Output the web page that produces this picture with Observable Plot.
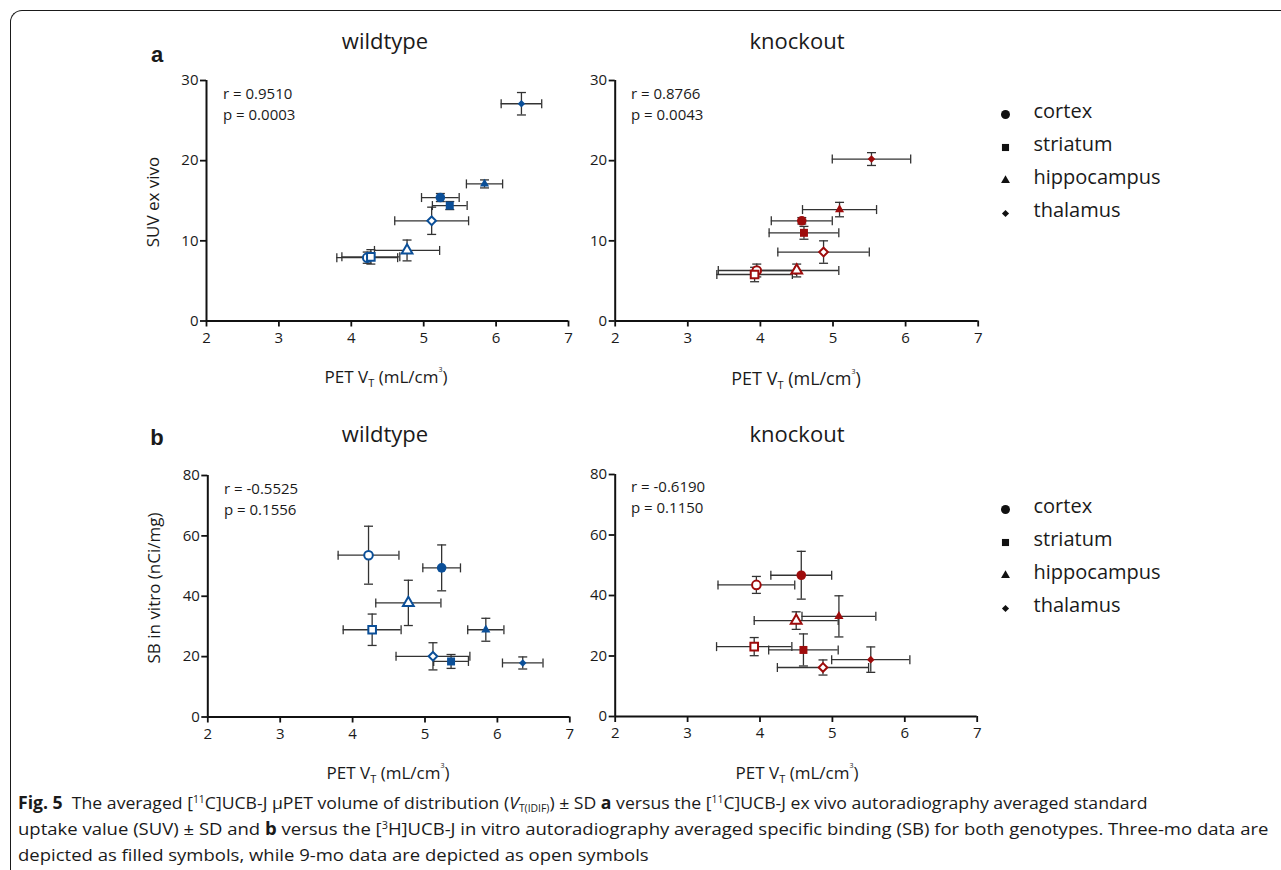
<!DOCTYPE html>
<html><head><meta charset="utf-8">
<script src="https://cdn.jsdelivr.net/npm/d3@7"></script>
<script src="https://cdn.jsdelivr.net/npm/@observablehq/plot@0.6"></script>
<style>
html,body{margin:0;padding:0;background:#fff;overflow:hidden;}
#fig{position:relative;width:1281px;height:870px;overflow:hidden;font-family:"Open Sans",sans-serif;color:#1a1a1a;background:#fff;}
#frame{position:absolute;left:10px;top:10px;width:1320px;height:920px;border-left:1.6px solid #1a1a1a;border-top:1.6px solid #1a1a1a;border-top-left-radius:12px;}
.abs{position:absolute;white-space:nowrap;}
.c{transform:translate(-50%,-50%);}
.title{font-size:22px;}
.letter{font-family:"Liberation Sans",Arial,sans-serif;font-weight:bold;font-size:22px;}
.stat{font-size:15px;line-height:21px;}
.xl{font-size:17px;}
.xl sub{font-size:11px;vertical-align:-4px;line-height:0;}
.xl sup{font-size:7px;vertical-align:11px;line-height:0;}
.yl{font-size:17px;transform:translate(-50%,-50%) rotate(-90deg);}
.panel{position:absolute;}
.panel svg g[aria-label^="x-axis"] line,.panel svg g[aria-label^="x-axis"] path,
.panel svg g[aria-label^="y-axis"] line,.panel svg g[aria-label^="y-axis"] path{stroke-width:1.8;stroke:#111;}
.cap{font-size:17px;transform-origin:0 50%;line-height:20px;}
.cap sup{font-size:10px;vertical-align:6px;line-height:0;}
.cap sub{font-size:10px;vertical-align:-3px;line-height:0;}
</style></head>
<body>
<div id="fig">
  <div id="frame"></div>
  <div class="abs letter c" style="left:157px;top:55px;">a</div>
  <div class="abs letter c" style="left:157px;top:438px;">b</div>
  <div class="abs title c" style="left:385px;top:40px;">wildtype</div>
  <div class="abs title c" style="left:797px;top:40px;">knockout</div>
  <div class="abs title c" style="left:385px;top:433px;">wildtype</div>
  <div class="abs title c" style="left:797px;top:433px;">knockout</div>
  <div class="abs yl" style="left:152px;top:202px;">SUV ex vivo</div>
  <div class="abs yl" style="left:153px;top:588px;">SB in vitro (nCi/mg)</div>
  <div class="abs xl c" style="left:386px;top:376px;">PET V<sub>T</sub> (mL/cm<sup>3</sup>)</div>
  <div class="abs xl c" style="left:796px;top:378px;font-size:18px;">PET V<sub>T</sub> (mL/cm<sup>3</sup>)</div>
  <div class="abs xl c" style="left:388px;top:772px;">PET V<sub>T</sub> (mL/cm<sup>3</sup>)</div>
  <div class="abs xl c" style="left:797px;top:772px;">PET V<sub>T</sub> (mL/cm<sup>3</sup>)</div>
  <div id="pA1" class="panel" style="left:150px;top:60px;"></div>
  <div id="pA2" class="panel" style="left:560px;top:60px;"></div>
  <div id="pB1" class="panel" style="left:150px;top:455px;"></div>
  <div id="pB2" class="panel" style="left:560px;top:455px;"></div>
  <div id="lgA" class="panel" style="left:980px;top:93px;"></div>
  <div id="lgB" class="panel" style="left:980px;top:488px;"></div>
  <div id="st0" class="abs stat" style="left:223px;top:83px;"></div>
  <div id="st1" class="abs stat" style="left:631px;top:83px;"></div>
  <div id="st2" class="abs stat" style="left:224px;top:478px;"></div>
  <div id="st3" class="abs stat" style="left:631px;top:476px;"></div>
  <div id="cap1" class="abs cap" style="left:18px;top:793px;"><b>Fig. 5</b>&nbsp; The averaged [<sup>11</sup>C]UCB-J µPET volume of distribution (<i>V</i><sub>T(IDIF)</sub>) ± SD <b>a</b> versus the [<sup>11</sup>C]UCB-J ex vivo autoradiography averaged standard</div>
  <div id="cap2" class="abs cap" style="left:18px;top:819px;">uptake value (SUV) ± SD and <b>b</b> versus the [<sup>3</sup>H]UCB-J in vitro autoradiography averaged specific binding (SB) for both genotypes. Three-mo data are</div>
  <div id="cap3" class="abs cap" style="left:18px;top:845px;">depicted as filled symbols, while 9-mo data are depicted as open symbols</div>
</div>
<script>
// ---- data ----
const regions = ["cortex", "striatum", "hippocampus", "thalamus"];
const xTicks = [2, 3, 4, 5, 6, 7];
const suvTicks = [0, 10, 20, 30];
const sbTicks = [0, 20, 40, 60, 80];
// PET VT (mL/cm3), mean and SD, order: cortex, striatum, hippocampus, thalamus
const petWT3 = [5.23, 5.36, 5.84, 6.35];
const petWT3sd = [0.26, 0.24, 0.25, 0.28];
const petWT9 = [4.22, 4.27, 4.77, 5.11];
const petWT9sd = [0.42, 0.40, 0.45, 0.51];
const petKO3 = [4.57, 4.60, 5.09, 5.53];
const petKO3sd = [0.42, 0.48, 0.51, 0.54];
const petKO9 = [3.95, 3.92, 4.50, 4.87];
const petKO9sd = [0.53, 0.52, 0.58, 0.63];
// SUV ex vivo
const suvWT3 = [15.4, 14.4, 17.1, 27.1];
const suvWT3sd = [0.5, 0.5, 0.5, 1.4];
const suvWT9 = [7.9, 8.0, 8.8, 12.5];
const suvWT9sd = [0.7, 0.9, 1.3, 1.7];
const suvKO3 = [12.5, 11.0, 13.9, 20.2];
const suvKO3sd = [0.4, 0.8, 0.9, 0.8];
const suvKO9 = [6.3, 5.8, 6.3, 8.6];
const suvKO9sd = [0.8, 0.9, 0.8, 1.4];
// SB in vitro (nCi/mg)
const sbWT3 = [49.4, 18.4, 28.9, 17.9];
const sbWT3sd = [7.6, 2.3, 3.8, 2.0];
const sbWT9 = [53.6, 28.9, 37.8, 20.1];
const sbWT9sd = [9.6, 5.2, 7.5, 4.5];
const sbKO3 = [46.7, 22.0, 33.1, 18.8];
const sbKO3sd = [7.9, 5.3, 6.8, 4.2];
const sbKO9 = [43.5, 23.1, 31.7, 16.2];
const sbKO9sd = [2.8, 3.0, 2.9, 2.5];
// correlation statistics: a-wildtype, a-knockout, b-wildtype, b-knockout
const statR = ["0.9510", "0.8766", "-0.5525", "-0.6190"];
const statP = ["0.0003", "0.0043", "0.1556", "0.1150"];

// ---- styling ----
const BLUE = "#0b4f98", RED = "#9e0c0c", EB = "#333";
const symbolNames = ["circle", "square", "triangle", "diamond2"];
const filledR = [4.8, 4.5, 3.4, 3.4];
const openR = [4.3, 4.3, 4.0, 3.9];
const legendR = [4.5, 4.0, 3.3, 3.2];
const capV = {draw(ctx) { ctx.moveTo(0, -4.5); ctx.lineTo(0, 4.5); }};
const capH = {draw(ctx) { ctx.moveTo(-4.5, 0); ctx.lineTo(4.5, 0); }};

function rows(px, pxsd, py, pysd, age) {
  return regions.map((region, i) => ({region, age, x: px[i], xsd: pxsd[i], y: py[i], ysd: pysd[i]}));
}

function panel(id, data, color, yDomain, yTicks, m) {
  const eb = {stroke: EB, strokeWidth: 1.3};
  const marks = [
    Plot.ruleY(data, {y: "y", x1: d => d.x - d.xsd, x2: d => d.x + d.xsd, ...eb}),
    Plot.ruleX(data, {x: "x", y1: d => d.y - d.ysd, y2: d => d.y + d.ysd, ...eb}),
    Plot.dot(data, {x: d => d.x - d.xsd, y: "y", symbol: capV, fill: "none", ...eb}),
    Plot.dot(data, {x: d => d.x + d.xsd, y: "y", symbol: capV, fill: "none", ...eb}),
    Plot.dot(data, {x: "x", y: d => d.y - d.ysd, symbol: capH, fill: "none", ...eb}),
    Plot.dot(data, {x: "x", y: d => d.y + d.ysd, symbol: capH, fill: "none", ...eb})
  ];
  regions.forEach((r, i) => {
    marks.push(Plot.dot(data.filter(d => d.age === "9-mo" && d.region === r),
      {x: "x", y: "y", symbol: symbolNames[i], r: openR[i], fill: "white", stroke: color, strokeWidth: 2}));
  });
  regions.forEach((r, i) => {
    marks.push(Plot.dot(data.filter(d => d.age === "3-mo" && d.region === r),
      {x: "x", y: "y", symbol: symbolNames[i], r: filledR[i], fill: color, stroke: "none"}));
  });
  marks.push(Plot.ruleY([yDomain[0]], {stroke: "#111", strokeWidth: 2}));
  marks.push(Plot.ruleX([xTicks[0]], {stroke: "#111", strokeWidth: 2}));
  const svg = Plot.plot({
    width: 430, height: 320,
    marginLeft: m[0], marginRight: m[1], marginTop: m[2], marginBottom: m[3],
    x: {domain: [xTicks[0], xTicks[xTicks.length - 1]], ticks: xTicks, tickFormat: d => String(d), tickSize: 6, tickPadding: 5, label: null},
    y: {domain: yDomain, ticks: yTicks, tickFormat: d => String(d), tickSize: 6, tickPadding: 2, label: null},
    style: {fontFamily: "Open Sans", fontSize: "15px", color: "#1a1a1a", background: "none", overflow: "visible"},
    marks
  });
  document.getElementById(id).appendChild(svg);
}

function legend(id) {
  const svg = Plot.plot({
    width: 200, height: 140, margin: 0,
    x: {domain: [0, 1], range: [25, 53], axis: null},
    y: {type: "point", domain: regions, range: [20, 121.5], padding: 0, axis: null},
    style: {fontFamily: "Open Sans", fontSize: "20px", color: "#1a1a1a", background: "none", overflow: "visible"},
    marks: [
      ...regions.map((r, i) => Plot.dot([r], {x: () => 0, y: d => d, symbol: symbolNames[i], r: legendR[i], fill: "#111", stroke: "none"})),
      Plot.text(regions, {x: () => 1, y: d => d, text: d => d, textAnchor: "start", dy: -3, fill: "#1a1a1a"})
    ]
  });
  document.getElementById(id).appendChild(svg);
}

panel("pA1", [...rows(petWT3, petWT3sd, suvWT3, suvWT3sd, "3-mo"), ...rows(petWT9, petWT9sd, suvWT9, suvWT9sd, "9-mo")],
  BLUE, [0, 30], suvTicks, [56, 12, 20, 59.5]);
panel("pA2", [...rows(petKO3, petKO3sd, suvKO3, suvKO3sd, "3-mo"), ...rows(petKO9, petKO9sd, suvKO9, suvKO9sd, "9-mo")],
  RED, [0, 30], suvTicks, [54.7, 12.3, 20, 59.5]);
panel("pB1", [...rows(petWT3, petWT3sd, sbWT3, sbWT3sd, "3-mo"), ...rows(petWT9, petWT9sd, sbWT9, sbWT9sd, "9-mo")],
  BLUE, [0, 80], sbTicks, [57.3, 10.7, 20, 58.5]);
panel("pB2", [...rows(petKO3, petKO3sd, sbKO3, sbKO3sd, "3-mo"), ...rows(petKO9, petKO9sd, sbKO9, sbKO9sd, "9-mo")],
  RED, [0, 80], sbTicks, [54.7, 13.3, 19, 59]);
legend("lgA");
legend("lgB");

statR.forEach((r, i) => {
  document.getElementById("st" + i).innerHTML = "r = " + r + "<br>p = " + statP[i];
});

// fit caption lines to the reference line widths
function fitCaption() {
  const s2 = 1250 / document.getElementById("cap2").offsetWidth;
  const s1 = 1130 / document.getElementById("cap1").offsetWidth;
  document.getElementById("cap1").style.transform = "scaleX(" + s1 + ")";
  document.getElementById("cap2").style.transform = "scaleX(" + s2 + ")";
  document.getElementById("cap3").style.transform = "scaleX(" + s2 + ")";
}
fitCaption();
if (document.fonts && document.fonts.ready) document.fonts.ready.then(fitCaption);
</script>
</body></html>
